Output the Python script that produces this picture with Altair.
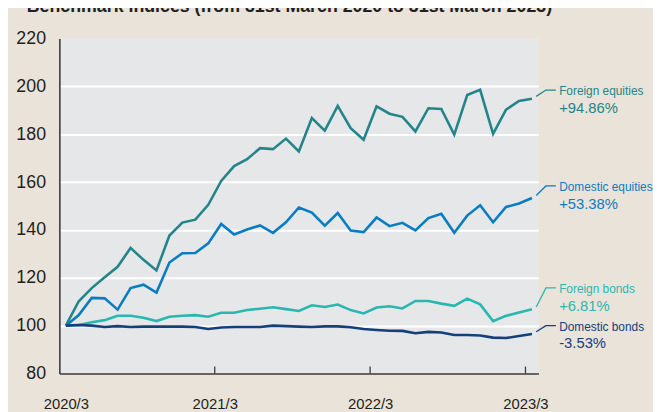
import altair as alt
import pandas as pd

# ---------------- data ----------------
title_text = "Benchmark indices (from 31st March 2020 to 31st March 2023)"

# monthly observations, 2020/3 ... 2023/3 (37 months)
month_index = list(range(37))

foreign_equities = [100.0, 110.2, 115.7, 120.2, 124.6, 132.5, 127.5, 123.1, 137.7, 143.1,
                    144.3, 150.5, 160.5, 166.7, 169.6, 174.2, 173.8, 178.2, 172.8, 186.8,
                    181.5, 191.9, 182.6, 177.7, 191.7, 188.6, 187.3, 181.2, 190.9, 190.6,
                    179.9, 196.4, 198.6, 180.2, 190.3, 193.9, 194.86]
domestic_equities = [100.0, 104.4, 111.6, 111.4, 106.7, 115.7, 117.1, 113.8, 126.4, 130.3,
                     130.4, 134.4, 142.5, 138.1, 140.2, 141.9, 138.8, 143.2, 149.4, 147.3,
                     141.8, 147.1, 139.8, 139.1, 145.2, 141.6, 143.0, 139.8, 145.0, 146.8,
                     138.8, 146.0, 150.3, 143.2, 149.6, 151.1, 153.38]
foreign_bonds = [100.0, 100.3, 101.4, 102.3, 104.1, 104.1, 103.3, 101.9, 103.7, 104.1,
                 104.4, 103.7, 105.4, 105.4, 106.5, 107.1, 107.7, 106.9, 106.1, 108.5,
                 107.8, 108.8, 106.5, 105.1, 107.6, 108.1, 107.2, 110.3, 110.3, 109.2,
                 108.3, 111.3, 108.9, 101.9, 104.1, 105.5, 106.81]
domestic_bonds = [100.0, 100.3, 100.0, 99.4, 99.8, 99.4, 99.6, 99.6, 99.6, 99.6,
                  99.4, 98.6, 99.2, 99.4, 99.4, 99.4, 100.0, 99.8, 99.6, 99.4,
                  99.7, 99.7, 99.3, 98.6, 98.2, 97.9, 97.8, 96.8, 97.4, 97.1,
                  96.1, 96.1, 95.9, 95.0, 94.8, 95.7, 96.47]

series_names = ["Foreign equities", "Domestic equities", "Foreign bonds", "Domestic bonds"]
series_returns = ["+94.86%", "+53.38%", "+6.81%", "-3.53%"]
series_values = [foreign_equities, domestic_equities, foreign_bonds, domestic_bonds]
# level (index value) at which each end label's leader line runs
label_levels = [198.5, 158.4, 115.8, 100.0]

x_tick_labels = ["2020/3", "2021/3", "2022/3", "2023/3"]
x_tick_months = [0, 12, 24, 36]
y_tick_values = [80, 100, 120, 140, 160, 180, 200, 220]

# ---------------- styles ----------------
colors = ["#23858A", "#0A7DC2", "#2AB7AF", "#143F7B"]
BG = "#EAE3D9"
PLOT_BG = "#E6E7E8"
AXIS_C = "#3A3A3A"
TEXT_C = "#231F20"
FONT = "Liberation Sans"
W, H = 485, 339
N = len(month_index)

# ---------------- tables ----------------
rows = []
for name, vals in zip(series_names, series_values):
    for m, v in zip(month_index, vals):
        rows.append({"series": name, "x": m + 0.5, "value": v})
df = pd.DataFrame(rows)

lead_rows = []
lab_rows = []
for name, vals, lvl, ret in zip(series_names, series_values, label_levels, series_returns):
    last_x = month_index[-1] + 0.5
    lead_rows += [
        {"series": name, "order": 0, "x": last_x + 0.33, "value": vals[-1] + 1.0},
        {"series": name, "order": 1, "x": last_x + 1.08, "value": lvl},
        {"series": name, "order": 2, "x": last_x + 1.85, "value": lvl},
    ]
    lab_rows.append({"series": name, "x": last_x + 2.1, "value": lvl, "name": name, "ret": ret})
lead_df = pd.DataFrame(lead_rows)
lab_df = pd.DataFrame(lab_rows)

tick_df = pd.DataFrame({"x": x_tick_months[1:]})
title_df = pd.DataFrame({"t": [title_text]})

# axis label expression built from the label lists
label_pos = [x_tick_months[0] + 0.5] + x_tick_months[1:]
expr = "''"
for p, lab in reversed(list(zip(label_pos, x_tick_labels))):
    expr = f"abs(datum.value - {p}) < 0.01 ? '{lab}' : ({expr})"

xscale = alt.Scale(domain=[0, N], nice=False, zero=False)
yscale = alt.Scale(domain=[80, 220], nice=False, zero=False)
cscale = alt.Scale(domain=series_names, range=colors)

x_axis = alt.Axis(values=label_pos, labelExpr=expr, title=None, grid=False, ticks=False,
                  domainColor=AXIS_C, domainWidth=1.6, labelFont=FONT,
                  labelFontSize=15, labelColor=TEXT_C, labelBaseline="alphabetic",
                  labelPadding=35, labelFlush=False, labelOverlap=False)
y_axis = alt.Axis(values=y_tick_values, title=None, ticks=False, grid=True,
                  gridColor="white", gridWidth=2,
                  gridOpacity={"condition": {"test": "datum.value == 80 || datum.value == 220", "value": 0}, "value": 1},
                  domainColor=AXIS_C, domainWidth=1.6, labelFont=FONT,
                  labelFontSize=18, labelColor=TEXT_C, labelPadding=14, labelFlush=False,
                  labelOverlap=False)

base_x = alt.X("x:Q", scale=xscale, axis=x_axis)
base_y = alt.Y("value:Q", scale=yscale, axis=y_axis)

lines = alt.Chart(df).mark_line(strokeWidth=2.6, strokeJoin="miter").encode(
    x=base_x, y=base_y,
    color=alt.Color("series:N", scale=cscale, legend=None),
    detail="series:N",
)

leaders = alt.Chart(lead_df).mark_line(strokeWidth=1.3).encode(
    x=alt.X("x:Q", scale=xscale), y=alt.Y("value:Q", scale=yscale),
    color=alt.Color("series:N", scale=cscale, legend=None),
    detail="series:N", order="order:Q",
)

name_text = alt.Chart(lab_df).mark_text(align="left", baseline="alphabetic", dy=5,
                                        font=FONT, fontSize=12).encode(
    x=alt.X("x:Q", scale=xscale), y=alt.Y("value:Q", scale=yscale),
    text="name:N", color=alt.Color("series:N", scale=cscale, legend=None),
)
ret_text = alt.Chart(lab_df).mark_text(align="left", baseline="alphabetic", dy=23,
                                       font=FONT, fontSize=15).encode(
    x=alt.X("x:Q", scale=xscale), y=alt.Y("value:Q", scale=yscale),
    text="ret:N", color=alt.Color("series:N", scale=cscale, legend=None),
)

ticks = alt.Chart(tick_df).mark_rule(color=AXIS_C, strokeWidth=1.3).encode(
    x=alt.X("x:Q", scale=xscale), y=alt.value(H), y2=alt.value(H - 7),
)

title = alt.Chart(title_df).mark_text(align="left", baseline="alphabetic", font=FONT,
                                      fontSize=18, fontWeight="bold", color=TEXT_C).encode(
    x=alt.value(-33), y=alt.value(-26.5), text="t:N",
)

chart = alt.layer(lines, leaders, ticks, name_text, ret_text, title).properties(
    width=W, height=H,
    background=BG,
    autosize=alt.AutoSizeParams(type="none"),
    padding={"left": 52, "top": 28.5, "right": 116, "bottom": 36.5},
).configure_view(fill=PLOT_BG, stroke=None)

chart.save("out.html", embed_options={"renderer": "svg", "actions": False})
